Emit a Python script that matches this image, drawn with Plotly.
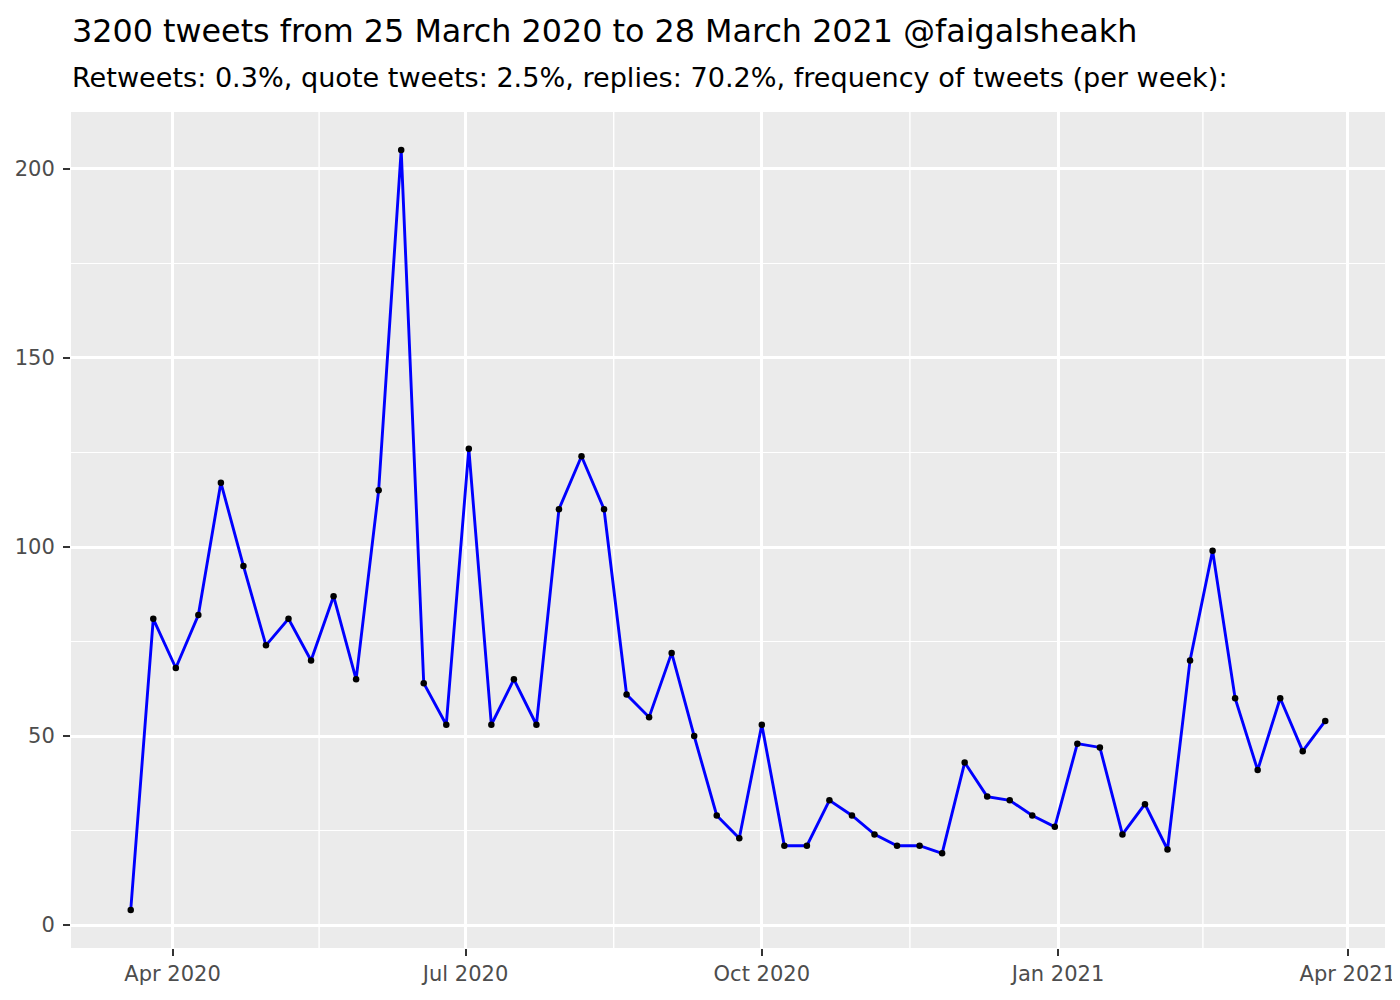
import plotly.graph_objects as go
import pandas as pd

# Weekly dates (Thursdays) and tweet counts
start_date = "2020-03-19"
n_weeks = 54
dates = pd.date_range(start_date, periods=n_weeks, freq="7D")
counts = [4, 81, 68, 82, 117, 95, 74, 81, 70, 87, 65, 115, 205, 64, 53, 126, 53, 65, 53, 110,
          124, 110, 61, 55, 72, 50, 29, 23, 53, 21, 21, 33, 29, 24, 21, 21, 19, 43, 34, 33,
          29, 26, 48, 47, 24, 32, 20, 70, 99, 60, 41, 60, 46, 54]

x_tick_vals = ["2020-04-01", "2020-07-01", "2020-10-01", "2021-01-01", "2021-04-01"]
x_tick_text = ["Apr 2020", "Jul 2020", "Oct 2020", "Jan 2021", "Apr 2021"]
x_minor_vals = ["2020-05-16 12:00", "2020-08-16", "2020-11-16", "2021-02-15"]
y_tick_vals = [0, 50, 100, 150, 200]
y_minor_vals = [25, 75, 125, 175]

title = "3200 tweets from 25 March 2020 to 28 March 2021 @faigalsheakh"
subtitle = "Retweets: 0.3%, quote tweets: 2.5%, replies: 70.2%, frequency of tweets (per week):"

FONT = "DejaVu Sans, Liberation Sans, sans-serif"

fig = go.Figure()
fig.add_trace(go.Scatter(x=dates, y=counts, mode="lines",
                         line=dict(color="#0000FF", width=2.9), hoverinfo="skip"))
fig.add_trace(go.Scatter(x=dates, y=counts, mode="markers",
                         marker=dict(color="black", size=6.5), hoverinfo="skip"))

# x minor gridlines
for v in x_minor_vals:
    fig.add_shape(type="line", xref="x", yref="paper", x0=v, x1=v, y0=0, y1=1,
                  line=dict(color="white", width=1.4), layer="below")

fig.update_layout(
    width=1392, height=992,
    margin=dict(l=63, r=15, t=104, b=52, autoexpand=False),
    paper_bgcolor="white", plot_bgcolor="#EBEBEB",
    showlegend=False,
    font=dict(family=FONT),
    annotations=[
        dict(text=title, xref="paper", yref="paper", x=0, y=1, xanchor="left",
             yanchor="middle", yshift=82, xshift=-1, showarrow=False,
             font=dict(size=31.8, color="black", family=FONT)),
        dict(text=subtitle, xref="paper", yref="paper", x=0, y=1, xanchor="left",
             yanchor="middle", yshift=35, xshift=-1, showarrow=False,
             font=dict(size=27.1, color="black", family=FONT)),
    ],
)
fig.update_xaxes(
    range=["2020-02-29 10:48", "2021-04-12 13:12"],
    tickvals=x_tick_vals, ticktext=x_tick_text,
    showgrid=True, gridcolor="white", gridwidth=2.8,
    ticks="outside", ticklen=7, tickwidth=2.2, tickcolor="#333333",
    tickfont=dict(size=21, color="#4D4D4D", family=FONT),
    zeroline=False, showline=False, automargin=False,
)
fig.update_yaxes(
    range=[-6.05, 215.05],
    tickvals=y_tick_vals,
    showgrid=True, gridcolor="white", gridwidth=2.8,
    minor=dict(tickvals=y_minor_vals, showgrid=True, gridcolor="white", gridwidth=1.4),
    ticks="outside", ticklen=7, tickwidth=2.2, tickcolor="#333333",
    tickfont=dict(size=21, color="#4D4D4D", family=FONT),
    ticklabelstandoff=4,
    zeroline=False, showline=False, automargin=False,
)

fig.write_html("out.html")
